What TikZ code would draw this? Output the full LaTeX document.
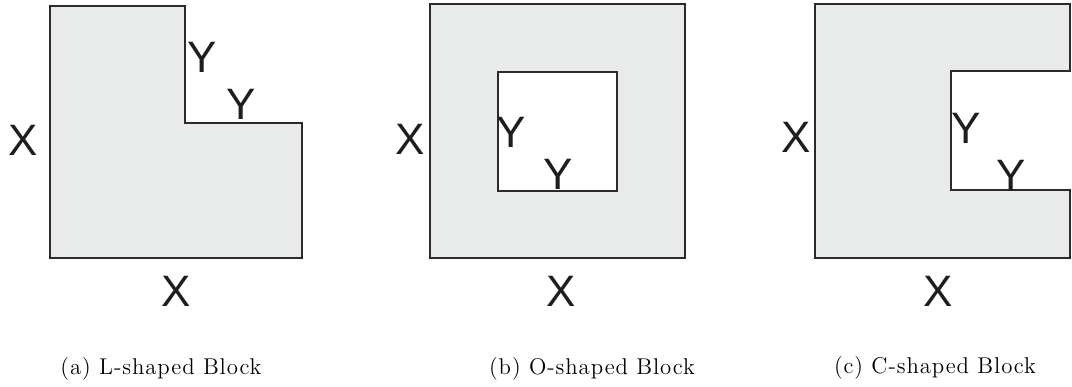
\documentclass[tikz,border=0pt]{standalone}
\usepackage{fontspec}
\usepackage{tikz}
\usetikzlibrary{
  positioning,
  calc
}
\newfontfamily\dimfont{Liberation Sans}
\newfontfamily\capfont[LetterSpace=4]{Latin Modern Roman}
\definecolor{blkFill}{HTML}{E9EBEA}
\definecolor{blkEdge}{HTML}{2B2B2B}
\definecolor{blkText}{HTML}{1E1E1E}
\tikzset{
  block/.style={draw=blkEdge, fill=blkFill, line width=1pt, line join=miter},
  hole/.style={draw=blkEdge, fill=white, line width=1pt},
  dimlabel/.style={font=\dimfont\fontsize{22}{22}\selectfont, text=blkText, inner sep=0pt, anchor=center},
  subcap/.style={font=\capfont\fontsize{11.4}{13}\selectfont, inner sep=0pt, anchor=center}
}

\begin{document}
\begin{tikzpicture}[x=0.5pt, y=-0.5pt]
  \useasboundingbox (0,0) rectangle (1072,386);

  % (a) L-shaped block
  \draw[block] (50,6) -- (185,6) -- (185,123) -- (302,123) -- (302,258) -- (50,258) -- cycle;
  \node[dimlabel] (aYv) at (202,57) {Y};
  \node[dimlabel] (aYh) at (241,104) {Y};
  \node[dimlabel] (aXl) at (23,140) {X};
  \node[dimlabel] (aXb) at (176,291) {X};
  \node[subcap] (capa) at (161,369) {(a) L-shaped Block};

  % (b) O-shaped block
  \draw[block] (430,4) rectangle (685,258);
  \draw[hole] (498,72) rectangle (617,191);
  \node[dimlabel] (bYv) at (511,132) {Y};
  \node[dimlabel] (bYh) at (558,174) {Y};
  \node[dimlabel] (bXl) at (410,139) {X};
  \node[dimlabel] (bXb) at (561,291) {X};
  \node[subcap] (capb) at (592,369) {(b) O-shaped Block};

  % (c) C-shaped block
  \draw[block] (815,4) -- (1070,4) -- (1070,71) -- (951,71) -- (951,190) -- (1070,190) -- (1070,258) -- (815,258) -- cycle;
  \node[dimlabel] (cYv) at (966,128) {Y};
  \node[dimlabel] (cYh) at (1011,175) {Y};
  \node[dimlabel] (cXl) at (796,137) {X};
  \node[dimlabel] (cXb) at (938,291) {X};
  \node[subcap] (capc) at (935,368) {(c) C-shaped Block};
\end{tikzpicture}
\end{document}
